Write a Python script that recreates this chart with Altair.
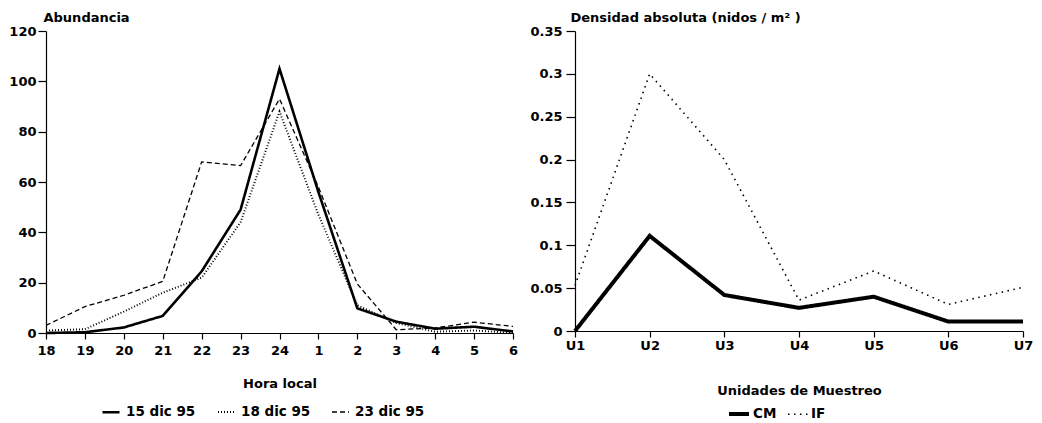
import altair as alt
import pandas as pd

# ---- Left panel data ----
horas = ["18", "19", "20", "21", "22", "23", "24", "1", "2", "3", "4", "5", "6"]
serie_15 = [0, 0.3, 2.2, 6.8, 24.5, 49, 105, 56, 9.8, 4.5, 1.7, 2.5, 0.6]
serie_18 = [1, 1.5, 8.5, 16, 22, 44, 88, 47, 11, 4, 0.5, 1, 0]
serie_23 = [3, 10.5, 15, 20.5, 68, 66.5, 93, 58, 19.5, 1.3, 2, 4.3, 2.6]
series_izq = ["15 dic 95", "18 dic 95", "23 dic 95"]

# ---- Right panel data ----
unidades = ["U1", "U2", "U3", "U4", "U5", "U6", "U7"]
cm = [0, 0.111, 0.042, 0.027, 0.040, 0.011, 0.011]
if_ = [0.053, 0.30, 0.20, 0.036, 0.070, 0.031, 0.051]
series_der = ["CM", "IF"]

rows = []
for name, vals in zip(series_izq, [serie_15, serie_18, serie_23]):
    for h, v in zip(horas, vals):
        rows.append({"hora": h, "valor": v, "serie": name})
df_l = pd.DataFrame(rows)

rows = []
for name, vals in zip(series_der, [cm, if_]):
    for u, v in zip(unidades, vals):
        rows.append({"unidad": u, "valor": v, "serie": name})
df_r = pd.DataFrame(rows)

FONT = "DejaVu Sans"

def legend(x, y, size, offset, colpad):
    return alt.Legend(
        title=None, orient="none", legendX=x, legendY=y, direction="horizontal",
        symbolType="stroke", symbolSize=size, symbolStrokeColor="black",
        labelFont=FONT, labelFontSize=13.5, labelFontWeight="bold", labelColor="black",
        labelOffset=offset, columnPadding=colpad, padding=0,
    )

leg_l = legend(55, 371, 289, 5, 18)
left = alt.Chart(df_l).mark_line(color="black").encode(
    x=alt.X("hora:N", sort=horas, scale=alt.Scale(type="point", padding=0),
            axis=alt.Axis(title="Hora local", labelAngle=0, tickSize=6, labelPadding=5,
                          titlePadding=20)),
    y=alt.Y("valor:Q", scale=alt.Scale(domain=[0, 120]),
            axis=alt.Axis(title="Abundancia", values=[0, 20, 40, 60, 80, 100, 120],
                          tickSize=8, labelPadding=2, titleAngle=0, titleAlign="left",
                          titleBaseline="alphabetic", titleX=-3, titleY=-10)),
    strokeDash=alt.StrokeDash("serie:N", sort=series_izq,
                              scale=alt.Scale(domain=series_izq, range=[[1, 0], [1, 2], [5, 3]]),
                              legend=leg_l),
    strokeWidth=alt.StrokeWidth("serie:N", sort=series_izq,
                                scale=alt.Scale(domain=series_izq, range=[2.6, 1.3, 1.5]),
                                legend=leg_l),
).properties(width=467, height=302)

leg_r = legend(152, 371, 400, 2, 7)
right = alt.Chart(df_r).mark_line(color="black").encode(
    x=alt.X("unidad:N", sort=unidades, scale=alt.Scale(type="point", padding=0),
            axis=alt.Axis(title="Unidades de Muestreo", labelAngle=0, tickSize=6,
                          labelPadding=2, titlePadding=32)),
    y=alt.Y("valor:Q", scale=alt.Scale(domain=[0, 0.35]),
            axis=alt.Axis(title="Densidad absoluta (nidos / m² )", format=".2~f",
                          values=[0, 0.05, 0.1, 0.15, 0.2, 0.25, 0.3, 0.35],
                          tickSize=9, labelPadding=4, titleAngle=0, titleAlign="left",
                          titleBaseline="alphabetic", titleX=-5, titleY=-10)),
    strokeDash=alt.StrokeDash("serie:N", sort=series_der,
                              scale=alt.Scale(domain=series_der, range=[[1, 0], [1.5, 4.5]]),
                              legend=leg_r),
    strokeWidth=alt.StrokeWidth("serie:N", sort=series_der,
                                scale=alt.Scale(domain=series_der, range=[4, 1.6]),
                                legend=leg_r),
).properties(width=448, height=300)

chart = alt.hconcat(left, right, spacing=10).resolve_scale(
    strokeDash="independent", strokeWidth="independent"
).resolve_legend(strokeDash="independent", strokeWidth="independent").properties(
    padding={"left": 0, "top": 3, "right": 0, "bottom": 0}, background="white"
).configure_view(stroke=None).configure_axis(
    grid=False, domainColor="black", domainWidth=1.2, tickColor="black", tickWidth=1.2,
    labelFont=FONT, labelFontSize=13, labelFontWeight="bold", labelColor="black",
    titleFont=FONT, titleFontSize=13, titleFontWeight="bold", titleColor="black",
)

chart.save("out.html", embed_options={"renderer": "svg", "actions": False})
